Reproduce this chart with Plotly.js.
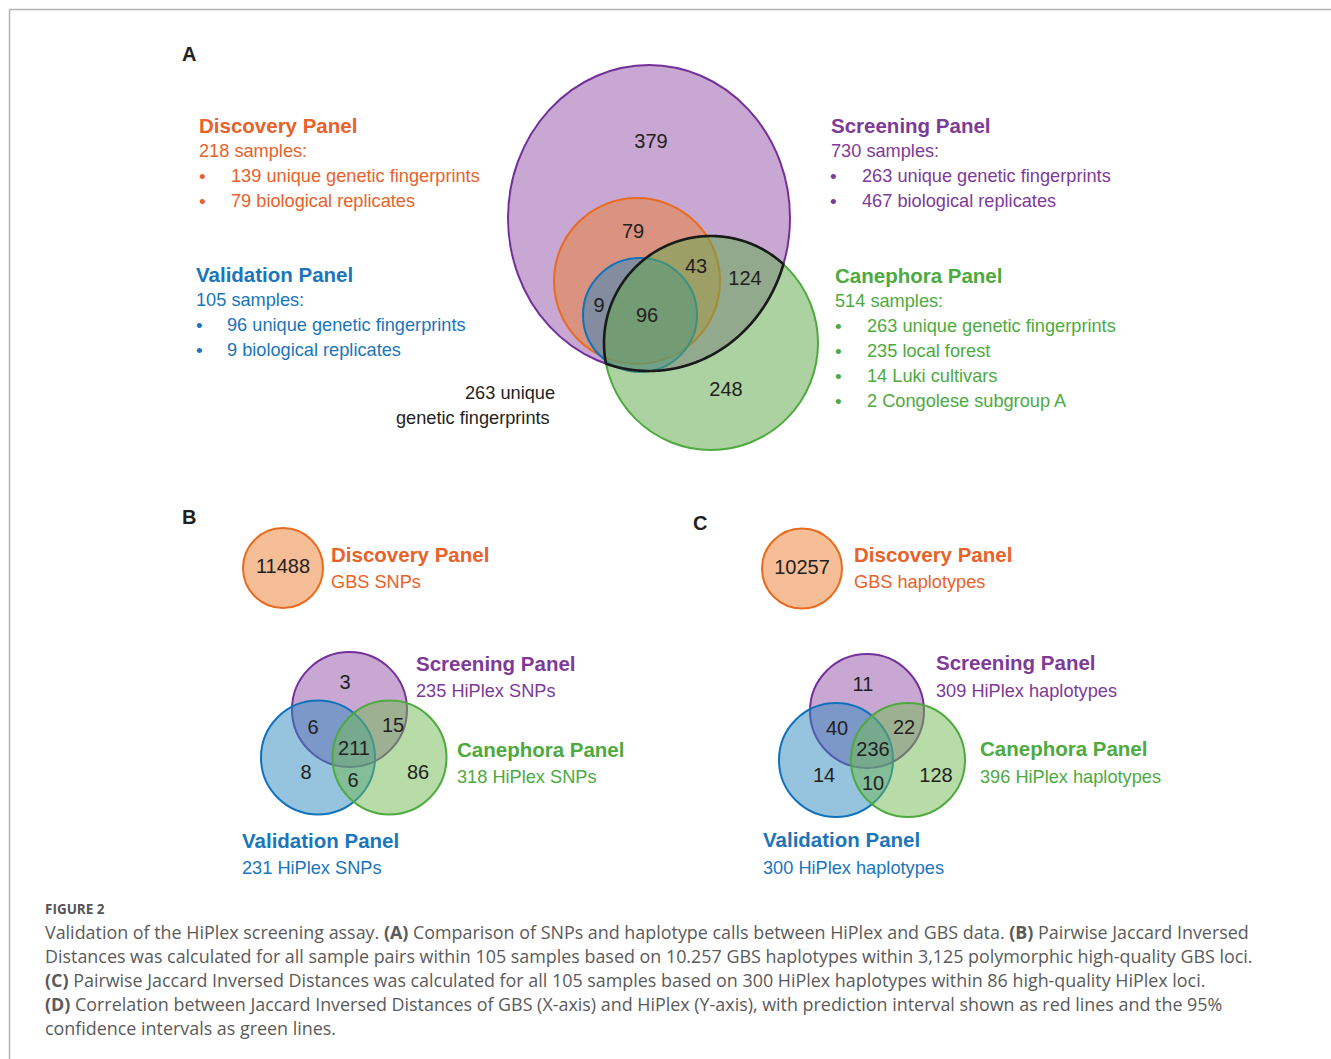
<!DOCTYPE html>
<html><head><meta charset="utf-8">
<script src="https://cdn.plot.ly/plotly-3.0.1.min.js"></script>
<style>html,body{margin:0;padding:0;background:#fff;}</style>
</head><body><div id="chart" style="width:1331px;height:1059px;"></div>
<script>
// ---------------- DATA ----------------
const panelNames = ['Discovery Panel', 'Screening Panel', 'Validation Panel', 'Canephora Panel'];
const panelSamples = [218, 730, 105, 514];
const discoveryDetails = ['139 unique genetic fingerprints', '79 biological replicates'];
const screeningDetails = ['263 unique genetic fingerprints', '467 biological replicates'];
const validationDetails = ['96 unique genetic fingerprints', '9 biological replicates'];
const canephoraDetails = ['263 unique genetic fingerprints', '235 local forest', '14 Luki cultivars', '2 Congolese subgroup A'];
const sharedNote = ['263 unique', 'genetic fingerprints'];
// Panel A region counts: screening only, discovery, disc+scr+can, scr+can, validation only, val+all, canephora only
const vennACounts = [379, 79, 43, 124, 9, 96, 248];
// Panel B: discovery GBS SNPs, region counts (S, S∩V, S∩C, all, V, V∩C, C), totals (S, C, V)
const gbsSNPs = 11488;
const vennBCounts = [3, 6, 15, 211, 8, 6, 86];
const vennBTotals = [235, 318, 231];
// Panel C
const gbsHaplotypes = 10257;
const vennCCounts = [11, 40, 22, 236, 14, 10, 128];
const vennCTotals = [309, 396, 300];
const captionHead = 'FIGURE 2';
const captionLines = [
  'Validation of the HiPlex screening assay. <b>(A)</b> Comparison of SNPs and haplotype calls between HiPlex and GBS data. <b>(B)</b> Pairwise Jaccard Inversed',
  'Distances was calculated for all sample pairs within 105 samples based on 10.257 GBS haplotypes within 3,125 polymorphic high-quality GBS loci.',
  '<b>(C)</b> Pairwise Jaccard Inversed Distances was calculated for all 105 samples based on 300 HiPlex haplotypes within 86 high-quality HiPlex loci.',
  '<b>(D)</b> Correlation between Jaccard Inversed Distances of GBS (X-axis) and HiPlex (Y-axis), with prediction interval shown as red lines and the 95%',
  'confidence intervals as green lines.'
];

// ---------------- STYLE / GEOMETRY ----------------
const COL = {
  orange: '#E8622A', purple: '#7E3A98', blue: '#1B75BB', green: '#4DAA3F',
  orangeLine: '#EA6A1E', purpleLine: '#74309A', blueLine: '#1072BA', greenLine: '#4DAA3F',
  orangeFill: 'rgba(235,125,45,0.5)', purpleFill: 'rgba(145,81,165,0.5)',
  blueFill: 'rgba(45,135,190,0.5)', greenFill: 'rgba(113,185,81,0.5)'
};
const FONT = 'Liberation Sans, Arial, Helvetica, sans-serif';
const CAPFONT = 'Open Sans, Lato, sans-serif';
const NUMCOL = '#231F20';

const shapes = [];
const annotations = [];

function circle(cx, cy, rx, ry, fill, line) {
  shapes.push({type: 'circle', xref: 'x', yref: 'y', x0: cx - rx, x1: cx + rx, y0: cy - ry, y1: cy + ry,
    fillcolor: fill, line: {color: line, width: 2}, layer: 'below'});
}
function text(t, x, y, opts) {
  opts = opts || {};
  annotations.push({text: t, x: x, y: y, xref: 'x', yref: 'y', showarrow: false,
    xanchor: opts.xa || 'left', yanchor: 'middle',
    font: {family: opts.family || FONT, size: opts.size || 18, color: opts.color || NUMCOL}});
}

// border
shapes.push({type: 'line', xref: 'x', yref: 'y', x0: 9.5, x1: 1331, y0: 9.5, y1: 9.5, line: {color: '#b3b3b3', width: 1.5}, layer: 'below'});
shapes.push({type: 'line', xref: 'x', yref: 'y', x0: 9.5, x1: 9.5, y0: 9.5, y1: 1059, line: {color: '#b3b3b3', width: 1.5}, layer: 'below'});

// ----- Panel A circles -----
const ellS = {cx: 649, cy: 218, rx: 141, ry: 153};
const cirD = {cx: 637, cy: 281, r: 83};
const cirV = {cx: 640, cy: 315, r: 57};
const cirC = {cx: 711, cy: 343, r: 107};
circle(ellS.cx, ellS.cy, ellS.rx, ellS.ry, COL.purpleFill, COL.purpleLine);
circle(cirD.cx, cirD.cy, cirD.r, cirD.r, COL.orangeFill, COL.orangeLine);
circle(cirV.cx, cirV.cy, cirV.r, cirV.r, COL.blueFill, COL.blueLine);
circle(cirC.cx, cirC.cy, cirC.r, cirC.r, 'rgba(100,170,80,0.53)', COL.greenLine);

// lens outline = intersection of screening ellipse and canephora circle
function inEll(x, y) { return Math.pow((x - ellS.cx) / ellS.rx, 2) + Math.pow((y - ellS.cy) / ellS.ry, 2) <= 1; }
function inCir(x, y) { return Math.hypot(x - cirC.cx, y - cirC.cy) <= cirC.r; }
function run(pointAt, inside, N) {
  let start = 0;
  for (let i = 0; i < N; i++) { const p = pointAt(i); if (!inside(p[0], p[1])) { start = i; break; } }
  const pts = [];
  for (let k = 0; k < N; k++) { const p = pointAt((start + k) % N); if (inside(p[0], p[1])) pts.push(p); }
  return pts;
}
const N = 1440;
const arc1 = run(i => { const a = 2 * Math.PI * i / N; return [cirC.cx + cirC.r * Math.cos(a), cirC.cy + cirC.r * Math.sin(a)]; }, inEll, N);
const arc2 = run(i => { const a = 2 * Math.PI * i / N; return [ellS.cx + ellS.rx * Math.cos(a), ellS.cy + ellS.ry * Math.sin(a)]; }, inCir, N);
const lensPts = arc1.concat(arc2);
const lensPath = 'M' + lensPts.map(p => p[0].toFixed(2) + ',' + p[1].toFixed(2)).join('L') + 'Z';
shapes.push({type: 'path', xref: 'x', yref: 'y', path: lensPath, line: {color: '#1a1a1a', width: 2.6}, fillcolor: 'rgba(0,0,0,0)', layer: 'below'});

// ----- Panel A texts -----
text('<b>A</b>', 180, 54, {size: 20, color: '#231F20'});
function panelBlock(name, samples, details, x, y, bx, tx, color) {
  text('<b>' + name + '</b>', x, y, {size: 20.5, color: color});
  text(samples + ' samples:', x, y + 26, {size: 18.2, color: color});
  details.forEach((d, i) => {
    text('•', bx, y + 51 + 25 * i, {size: 19, color: color, xa: 'center'});
    text(d, tx, y + 51 + 25 * i, {size: 18.2, color: color});
  });
}
panelBlock(panelNames[0], panelSamples[0], discoveryDetails, 197, 125, 202, 229, COL.orange);
panelBlock(panelNames[1], panelSamples[1], screeningDetails, 829, 125, 833, 860, COL.purple);
panelBlock(panelNames[2], panelSamples[2], validationDetails, 194, 274, 199, 225, COL.blue);
panelBlock(panelNames[3], panelSamples[3], canephoraDetails, 833, 275, 838, 865, COL.green);
text(sharedNote[0], 557, 393, {size: 18.2, color: '#231F20', xa: 'right'});
text(sharedNote[1], 552, 418, {size: 18.2, color: '#231F20', xa: 'right'});

const posA = [[651, 143], [633, 233], [696, 268], [745, 280], [599, 307], [647, 317], [726, 391]];

// ----- Panel B -----
circle(283, 568, 40, 40, COL.orangeFill, COL.orangeLine);
circle(349.5, 709.5, 57.5, 57.5, COL.purpleFill, COL.purpleLine);
circle(318, 757.5, 57, 57, COL.blueFill, COL.blueLine);
circle(389.5, 757.5, 57, 57, COL.greenFill, COL.greenLine);
text('<b>B</b>', 180, 517, {size: 20, color: '#231F20'});
text('<b>' + panelNames[0] + '</b>', 329, 554, {size: 20.5, color: COL.orange});
text('GBS SNPs', 329, 582, {size: 18.2, color: COL.orange});
text('<b>' + panelNames[1] + '</b>', 414, 663, {size: 20.5, color: COL.purple});
text(vennBTotals[0] + ' HiPlex SNPs', 414, 691, {size: 18.2, color: COL.purple});
text('<b>' + panelNames[3] + '</b>', 455, 749, {size: 20.5, color: COL.green});
text(vennBTotals[1] + ' HiPlex SNPs', 455, 777, {size: 18.2, color: COL.green});
text('<b>' + panelNames[2] + '</b>', 240, 840, {size: 20.5, color: COL.blue});
text(vennBTotals[2] + ' HiPlex SNPs', 240, 868, {size: 18.2, color: COL.blue});
const posB = [[345, 684], [313, 729], [393, 727], [354, 750], [306, 774], [353, 782], [418, 774]];
const posBDisc = [283, 568];

// ----- Panel C -----
circle(802, 568.5, 40, 40, COL.orangeFill, COL.orangeLine);
circle(867, 711, 57, 57, COL.purpleFill, COL.purpleLine);
circle(836, 760, 57, 57, COL.blueFill, COL.blueLine);
circle(908, 760, 57, 57, COL.greenFill, COL.greenLine);
text('<b>C</b>', 691, 523, {size: 20, color: '#231F20'});
text('<b>' + panelNames[0] + '</b>', 852, 554, {size: 20.5, color: COL.orange});
text('GBS haplotypes', 852, 582, {size: 18.2, color: COL.orange});
text('<b>' + panelNames[1] + '</b>', 934, 662, {size: 20.5, color: COL.purple});
text(vennCTotals[0] + ' HiPlex haplotypes', 934, 691, {size: 18.2, color: COL.purple});
text('<b>' + panelNames[3] + '</b>', 978, 748, {size: 20.5, color: COL.green});
text(vennCTotals[1] + ' HiPlex haplotypes', 978, 777, {size: 18.2, color: COL.green});
text('<b>' + panelNames[2] + '</b>', 761, 839, {size: 20.5, color: COL.blue});
text(vennCTotals[2] + ' HiPlex haplotypes', 761, 868, {size: 18.2, color: COL.blue});
const posC = [[863, 686], [837, 730], [904, 729], [873, 751], [824, 777], [873, 785], [936, 777]];
const posCDisc = [802, 569];

// ----- Caption -----
text('<b>' + captionHead + '</b>', 43, 909, {size: 13.5, color: '#555555', family: CAPFONT});
captionLines.forEach((l, i) => {
  text(l, 43, 932 + 24 * i, {size: 17.9, color: '#5a5a5a', family: CAPFONT});
});

// ----- Count traces -----
function countTrace(pos, vals) {
  return {type: 'scatter', mode: 'text', x: pos.map(p => p[0]), y: pos.map(p => p[1]),
    text: vals.map(String), textposition: 'middle center',
    textfont: {family: FONT, size: 20, color: NUMCOL}, hoverinfo: 'skip', showlegend: false, cliponaxis: false};
}
const data = [
  countTrace(posA, vennACounts),
  countTrace(posB.concat([posBDisc]), vennBCounts.concat([gbsSNPs])),
  countTrace(posC.concat([posCDisc]), vennCCounts.concat([gbsHaplotypes]))
];

const layout = {
  width: 1331, height: 1059,
  margin: {l: 0, r: 0, t: 0, b: 0},
  paper_bgcolor: '#ffffff', plot_bgcolor: '#ffffff',
  xaxis: {range: [0, 1331], visible: false, fixedrange: true},
  yaxis: {range: [1059, 0], visible: false, fixedrange: true},
  shapes: shapes, annotations: annotations, showlegend: false
};
Plotly.newPlot('chart', data, layout, {staticPlot: true});
</script></body></html>
